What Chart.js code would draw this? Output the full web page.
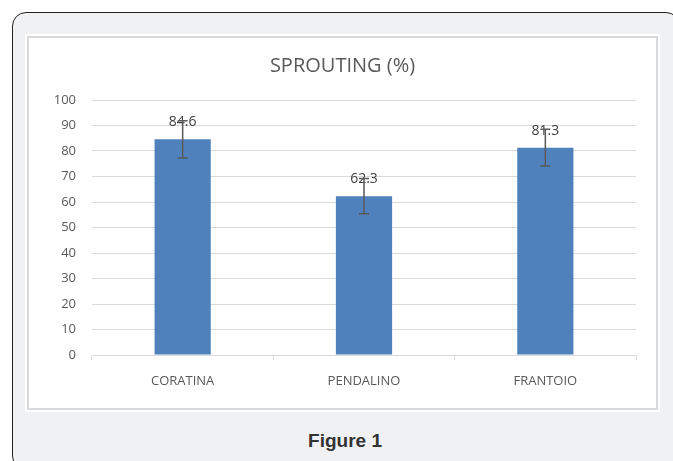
<!DOCTYPE html>
<html>
<head>
<meta charset="utf-8">
<script src="https://cdn.jsdelivr.net/npm/chart.js@4"></script>
<style>
    body { margin: 0; background: #fff; width: 673px; height: 461px; overflow: hidden; position: relative; font-family: "Open Sans", sans-serif; }
    #frame { position: absolute; left: 12px; top: 12px; width: 668px; height: 458px; border: 1.5px solid #222; border-radius: 14px; background: #f0f1f3; box-sizing: border-box; }
    #box { position: absolute; left: 27px; top: 36px; width: 631px; height: 374px; background: #fff; border: 2px solid #d9d9d9; box-shadow: 0 0 0 2px #fff; box-sizing: border-box; }
    #chartWrap { position: absolute; left: 29px; top: 38px; width: 627px; height: 370px; }
    #caption { position: absolute; left: 0; width: 690px; top: 430px; text-align: center; font-family: "Liberation Sans", Arial, sans-serif; font-weight: bold; font-size: 19px; color: #333; }
</style>
</head>
<body>
<div id="frame"></div>
<div id="box"></div>
<div id="chartWrap"><canvas id="sproutChart" width="627" height="370"></canvas></div>
<div id="caption">Figure 1</div>
<script>
    // chart data
    const categories = ['CORATINA', 'PENDALINO', 'FRANTOIO'];
    const sprouting = [84.6, 62.3, 81.3];
    const errors = [7.3, 6.9, 7.2];
    const yTicks = [0, 10, 20, 30, 40, 50, 60, 70, 80, 90, 100];

    // error bars + value labels
    const barExtras = {
        id: 'barExtras',
        afterDatasetsDraw(chart) {
            const ctx = chart.ctx;
            const y = chart.scales.y;
            const meta = chart.getDatasetMeta(0);
            ctx.save();
            meta.data.forEach(function(bar, i) {
                const x = bar.x;
                const top = y.getPixelForValue(sprouting[i] + errors[i]);
                const bottom = y.getPixelForValue(sprouting[i] - errors[i]);
                // label first, error bar drawn over it like in the picture
                ctx.fillStyle = '#404040';
                ctx.font = '14px "Open Sans"';
                ctx.textAlign = 'center';
                ctx.textBaseline = 'middle';
                ctx.fillText(sprouting[i].toFixed(1), x, bar.y - 17);

                ctx.strokeStyle = '#595959';
                ctx.lineWidth = 1.5;
                ctx.beginPath();
                ctx.moveTo(x, top); ctx.lineTo(x, bottom);
                ctx.moveTo(x - 5, top); ctx.lineTo(x + 5, top);
                ctx.moveTo(x - 5, bottom); ctx.lineTo(x + 5, bottom);
                ctx.stroke();
            });
            ctx.restore();
        }
    };

    const ctx = document.getElementById('sproutChart').getContext('2d');
    new Chart(ctx, {
        type: 'bar',
        data: {
            labels: categories,
            datasets: [{
                data: sprouting,
                backgroundColor: '#4F81BD',
                barPercentage: 0.31,
                categoryPercentage: 1
            }]
        },
        options: {
            responsive: false,
            animation: false,
            layout: { padding: { left: 20, right: 20, top: 0, bottom: 0 } },
            plugins: {
                legend: { display: false },
                tooltip: { enabled: false },
                title: {
                    display: true,
                    text: 'SPROUTING (%)',
                    color: '#595959',
                    font: { family: 'Open Sans', size: 20, weight: 'normal' },
                    padding: { top: 16, bottom: 22 }
                }
            },
            scales: {
                y: {
                    min: 0,
                    max: 100,
                    afterBuildTicks(scale) { scale.ticks = yTicks.map(v => ({ value: v })); },
                    afterFit(scale) { scale.width = 43; },
                    border: { display: false },
                    grid: { color: '#d9d9d9', drawTicks: false },
                    ticks: { color: '#595959', padding: 16, font: { family: 'Open Sans', size: 13 } }
                },
                x: {
                    afterFit(scale) { scale.height = 53; },
                    border: { color: '#d9d9d9' },
                    grid: { offset: true, drawOnChartArea: false, color: '#d9d9d9', tickLength: 5 },
                    ticks: { color: '#595959', padding: 13, font: { family: 'Open Sans', size: 13 } }
                }
            }
        },
        plugins: [barExtras]
    });
</script>
</body>
</html>
